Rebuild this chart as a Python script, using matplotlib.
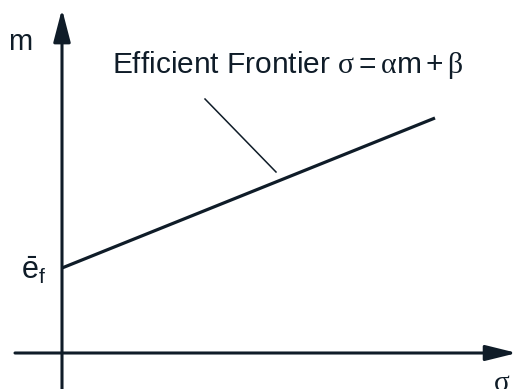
"""Efficient frontier sketch: m against sigma with a straight-line frontier."""

import matplotlib

matplotlib.use("Agg")
import matplotlib.pyplot as plt

plt.rcParams["font.family"] = ["Liberation Sans", "DejaVu Sans"]
plt.rcParams["mathtext.fontset"] = "custom"
plt.rcParams["mathtext.rm"] = "Liberation Sans"
plt.rcParams["mathtext.it"] = "Liberation Serif"
plt.rcParams["mathtext.bf"] = "Liberation Sans:bold"

INK = "#0f1c28"

# axis extents (sigma horizontally, m vertically)
sigma_axis = [-47, 455]
m_axis = [-36, 344]

# frontier line: starts at the risk-free level e_f on the m axis
frontier_sigma = [0, 373]
frontier_m = [85, 235]

# leader from the caption down to the frontier
leader_sigma = [143, 214]
leader_m = [254, 181]

caption = r"Efficient Frontier $\sigma = \alpha\mathrm{m} + \beta$"


def main() -> None:
    fig = plt.figure(figsize=(5.18, 3.89), dpi=100)
    ax = fig.add_axes([0, 0, 1, 1])
    ax.set_xlim(-62, 456)
    ax.set_ylim(-36, 353)
    ax.axis("off")

    arrow = dict(arrowstyle="-|>,head_length=20,head_width=5.2", mutation_scale=1,
                 color=INK, lw=2.2, shrinkA=0, shrinkB=0)
    ax.annotate("", xy=(0, m_axis[1]), xytext=(0, m_axis[0]), arrowprops=arrow)
    arrow_h = dict(arrow, arrowstyle="-|>,head_length=19,head_width=4.7")
    ax.annotate("", xy=(sigma_axis[1], 0), xytext=(sigma_axis[0], 0), arrowprops=arrow_h)

    ax.plot(frontier_sigma, frontier_m, color=INK, lw=2.3, solid_capstyle="butt")
    ax.plot(leader_sigma, leader_m, color=INK, lw=1.1)

    ax.text(50, 280, caption, fontsize=21.5, color=INK, va="baseline")
    ax.text(-54, 303, "m", fontsize=21, color=INK, va="baseline")
    ax.text(-41, 73, r"$\bar{\mathrm{e}}_\mathrm{f}$", fontsize=22, color=INK, va="baseline")
    ax.text(431, -38, r"$\sigma$", fontsize=21, color=INK, va="baseline")

    fig.savefig("out.png", dpi=100)
    plt.close(fig)


if __name__ == "__main__":
    main()
